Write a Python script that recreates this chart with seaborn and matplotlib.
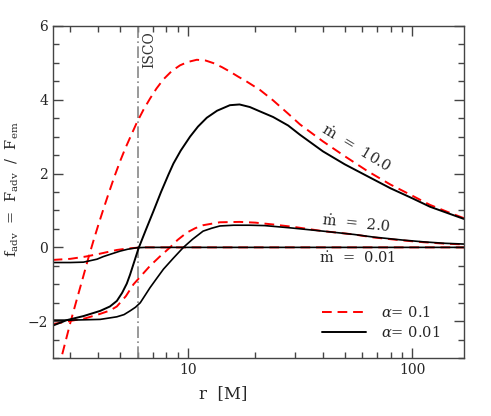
import numpy as np
import pandas as pd
import matplotlib
matplotlib.use('Agg')
import matplotlib.pyplot as plt
import seaborn as sns
from matplotlib.ticker import MultipleLocator, FixedLocator, FixedFormatter, LogLocator, NullFormatter

# Curves: radius r [M] and f_adv
# mdot = 10.0
r_m10_a01 = [2.65, 2.73, 2.85, 3.01, 3.2, 3.4, 3.61, 3.8, 4.0, 4.2, 4.4, 4.7, 5.0, 5.25, 5.53, 5.93, 6.35, 6.79, 7.25, 7.79, 8.5, 9.24, 10.0, 10.97, 12.0, 13.0, 14.2, 15.4, 16.8, 18.3, 21.0, 24.0, 28.0, 31.6, 40.0, 50.0, 63.0, 80.0, 100.0, 120.0, 145.0, 170.0]
f_m10_a01 = [-3.3, -3.0, -2.56, -2.0, -1.42, -0.85, -0.28, 0.18, 0.62, 1.02, 1.39, 1.9, 2.34, 2.66, 2.97, 3.38, 3.73, 4.03, 4.3, 4.55, 4.78, 4.93, 5.02, 5.08, 5.06, 4.99, 4.88, 4.76, 4.62, 4.49, 4.26, 3.98, 3.62, 3.33, 2.87, 2.47, 2.07, 1.7, 1.4, 1.15, 0.95, 0.79]
r_m10_a001 = [2.5, 2.89, 3.43, 4.07, 4.5, 4.83, 5.1, 5.35, 5.53, 5.8, 6.03, 6.5, 7.03, 7.6, 8.2, 8.63, 9.3, 10.24, 11.1, 12.15, 13.5, 15.4, 17.0, 18.9, 21.0, 24.0, 28.0, 31.6, 40.0, 50.0, 63.0, 80.0, 100.0, 120.0, 145.0, 170.0]
f_m10_a001 = [-2.12, -1.97, -1.86, -1.72, -1.6, -1.45, -1.23, -0.98, -0.74, -0.35, -0.03, 0.47, 0.98, 1.5, 1.97, 2.27, 2.62, 3.0, 3.27, 3.51, 3.7, 3.85, 3.87, 3.8, 3.68, 3.53, 3.3, 3.05, 2.6, 2.25, 1.93, 1.6, 1.33, 1.1, 0.92, 0.77]

# mdot = 2.0
r_m2_a01 = [2.5, 3.01, 3.5, 4.07, 4.5, 4.83, 5.3, 5.73, 6.3, 6.79, 7.5, 8.34, 9.0, 9.9, 10.8, 11.7, 13.9, 17.0, 20.0, 24.0, 30.0, 40.0, 55.0, 67.0, 90.0, 112.0, 140.0, 170.0]
f_m2_a01 = [-2.08, -1.99, -1.92, -1.8, -1.71, -1.6, -1.32, -1.0, -0.72, -0.5, -0.25, 0.0, 0.2, 0.4, 0.52, 0.6, 0.68, 0.69, 0.67, 0.62, 0.55, 0.44, 0.35, 0.27, 0.19, 0.14, 0.1, 0.08]
r_m2_a001 = [2.5, 3.0, 3.5, 4.07, 4.83, 5.2, 5.53, 5.85, 6.14, 6.45, 6.79, 7.25, 7.79, 8.6, 9.56, 10.5, 11.7, 12.8, 13.9, 16.0, 18.9, 22.0, 28.5, 40.0, 55.0, 67.0, 90.0, 112.0, 140.0, 170.0]
f_m2_a001 = [-1.97, -1.97, -1.96, -1.95, -1.88, -1.82, -1.72, -1.62, -1.5, -1.3, -1.09, -0.85, -0.59, -0.3, 0.0, 0.22, 0.44, 0.52, 0.58, 0.6, 0.6, 0.59, 0.53, 0.44, 0.35, 0.28, 0.2, 0.15, 0.11, 0.09]

# mdot = 0.01
r_m001_a01 = [2.5, 3.0, 3.5, 4.07, 4.83, 5.4, 5.93, 6.5, 170.0]
f_m001_a01 = [-0.34, -0.31, -0.25, -0.17, -0.07, -0.03, -0.01, 0.0, 0.0]
r_m001_a001 = [2.5, 3.0, 3.43, 3.94, 4.2, 4.5, 5.0, 5.4, 5.93, 6.5, 170.0]
f_m001_a001 = [-0.41, -0.41, -0.4, -0.32, -0.25, -0.19, -0.1, -0.05, -0.01, 0.0, 0.0]

r_isco = 6.0

sns.set_style('ticks')
plt.rcParams['font.family'] = ['DejaVu Serif']
plt.rcParams['mathtext.fontset'] = 'dejavuserif'

fig = plt.figure(figsize=(4.91, 4.16), dpi=100)
ax = fig.add_axes([0.108, 0.139, 0.837, 0.799])

ax.axvline(r_isco, color='#888888', lw=1.2, dashes=(7, 2, 1, 2))

red = '#ff0000'
sns.lineplot(x=r_m10_a01, y=f_m10_a01, ax=ax, color=red, lw=1.4, dashes=(5, 3), label=r'$\alpha$= 0.1')
sns.lineplot(x=r_m2_a01, y=f_m2_a01, ax=ax, color=red, lw=1.4, dashes=(5, 3))
sns.lineplot(x=r_m001_a01, y=f_m001_a01, ax=ax, color=red, lw=1.4, dashes=(5, 3))
sns.lineplot(x=r_m10_a001, y=f_m10_a001, ax=ax, color='black', lw=1.4, label=r'$\alpha$= 0.01')
sns.lineplot(x=r_m2_a001, y=f_m2_a001, ax=ax, color='black', lw=1.2)
sns.lineplot(x=r_m001_a001, y=f_m001_a001, ax=ax, color='black', lw=1.2)

ax.set_xscale('log')
ax.set_xlim(2.51, 170)
ax.set_ylim(-3, 6)
ax.xaxis.set_major_locator(FixedLocator([10, 100]))
ax.xaxis.set_major_formatter(FixedFormatter(['10', '100']))
ax.xaxis.set_minor_locator(LogLocator(base=10, subs=np.arange(2, 10)))
ax.xaxis.set_minor_formatter(NullFormatter())
ax.yaxis.set_major_locator(MultipleLocator(2))
ax.yaxis.set_minor_locator(MultipleLocator(0.5))

ax.tick_params(which='both', direction='in', top=True, right=True, labelsize=10, color='#444444')
ax.tick_params(which='major', length=7, width=1)
ax.tick_params(which='minor', length=4, width=1)
for s in ax.spines.values():
    s.set_color('#444444')
    s.set_linewidth(1.0)

ax.set_xlabel('r  [M]', fontsize=12, labelpad=6, x=0.414)
ax.set_ylabel(r'$\mathrm{f_{adv}}$  =  $\mathrm{F_{adv}}$  /  $\mathrm{F_{em}}$', fontsize=10.5, labelpad=5, y=0.51)

ax.text(6.25, 5.85, 'ISCO', rotation=90, ha='left', va='top', fontsize=10, color='#333333')
ax.text(56, 2.68, r'$\dot{\mathrm{m}}$  =  10.0', rotation=-31, ha='center', va='center', fontsize=10.5)
ax.text(56, 0.64, r'$\dot{\mathrm{m}}$  =  2.0', rotation=-6, ha='center', va='center', fontsize=10.5)
ax.text(57, -0.3, r'$\dot{\mathrm{m}}$  =  0.01', rotation=0, ha='center', va='center', fontsize=10.5)

leg = ax.legend(loc='lower right', bbox_to_anchor=(0.973, 0.014), frameon=False, fontsize=10.5,
                handlelength=3.0, handletextpad=1.0, labelspacing=0.35)

fig.savefig('out.png', dpi=100)
